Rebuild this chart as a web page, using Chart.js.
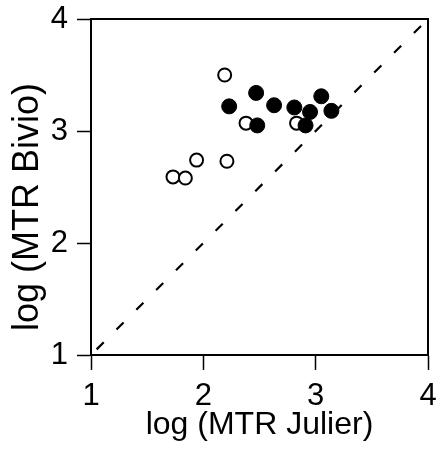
<!DOCTYPE html>
<html>
<head>
<meta charset="utf-8">
<script src="https://cdn.jsdelivr.net/npm/chart.js@4/dist/chart.umd.min.js"></script>
<style>
  html, body { margin: 0; padding: 0; background: #fff; }
  #wrap { width: 437px; height: 451px; }
</style>
</head>
<body>
<div id="wrap"><canvas id="c" width="437" height="451"></canvas></div>
<script>
// open circles (x = log MTR Julier, y = log MTR Bivio)
const openX = [2.19, 2.38, 2.83, 1.94, 2.21, 1.73, 1.84];
const openY = [3.50, 3.07, 3.07, 2.74, 2.73, 2.59, 2.58];
// filled circles
const filledX = [2.23, 2.47, 2.48, 2.63, 2.81, 2.95, 2.91, 3.05, 3.14];
const filledY = [3.22, 3.34, 3.05, 3.23, 3.21, 3.17, 3.05, 3.31, 3.18];
// 1:1 line
const lineX = [1, 4];
const lineY = [1, 4];
const tickVals = [1, 2, 3, 4];

const toPts = (xs, ys) => xs.map((x, i) => ({ x: x, y: ys[i] }));

// frame around the plot area (top & right sides)
const framePlugin = {
  id: "frame",
  afterDatasetsDraw(chart) {
    const a = chart.chartArea;
    const ctx = chart.ctx;
    ctx.save();
    ctx.strokeStyle = "#000";
    ctx.lineWidth = 2;
    ctx.strokeRect(a.left, a.top, a.right - a.left, a.bottom - a.top);
    ctx.restore();
  }
};

const fam = "'Liberation Sans', Arial, sans-serif";

new Chart(document.getElementById("c").getContext("2d"), {
  type: "scatter",
  data: {
    datasets: [
      {
        label: "filled",
        data: toPts(filledX, filledY),
        pointRadius: 7.5,
        pointBackgroundColor: "#000",
        pointBorderColor: "#000",
        pointBorderWidth: 1
      },
      {
        label: "open",
        data: toPts(openX, openY),
        pointRadius: 6.5,
        pointBackgroundColor: "#fff",
        pointBorderColor: "#000",
        pointBorderWidth: 2
      },
      {
        label: "1:1",
        data: toPts(lineX, lineY),
        showLine: true,
        pointRadius: 0,
        borderColor: "#000",
        borderWidth: 2.2,
        borderDash: [10, 18],
        borderDashOffset: -8
      }
    ]
  },
  options: {
    responsive: false,
    animation: false,
    layout: { padding: { left: 0, right: 9, top: 19, bottom: 7 } },
    plugins: { legend: { display: false }, tooltip: { enabled: false } },
    scales: {
      x: {
        type: "linear",
        min: 1, max: 4,
        afterBuildTicks: (s) => { s.ticks = tickVals.map(v => ({ value: v })); },
        afterFit: (s) => { s.height = 89; s.paddingLeft = 0; s.paddingRight = 0; },
        grid: { drawOnChartArea: false, tickLength: 15, tickColor: "#000", tickWidth: 1.5 },
        border: { color: "#000", width: 2 },
        ticks: { color: "#000", font: { family: fam, size: 31, lineHeight: 1.0 }, padding: 11 },
        title: { display: true, text: "log (MTR Julier)", color: "#000", font: { family: fam, size: 32, lineHeight: 1.2 }, padding: 0 }
      },
      y: {
        type: "linear",
        min: 1, max: 4,
        afterBuildTicks: (s) => { s.ticks = tickVals.map(v => ({ value: v })); },
        afterFit: (s) => { s.width = 91; s.paddingTop = 0; s.paddingBottom = 0; },
        grid: { drawOnChartArea: false, tickLength: 14, tickColor: "#000", tickWidth: 1.5 },
        border: { color: "#000", width: 2 },
        ticks: { color: "#000", font: { family: fam, size: 31, lineHeight: 1.0 }, padding: 9 },
        title: { display: true, text: "log (MTR Bivio)    ", color: "#000", font: { family: fam, size: 36, lineHeight: 1.2 }, padding: { top: 6, bottom: 0 } }
      }
    }
  },
  plugins: [framePlugin]
});
</script>
</body>
</html>
